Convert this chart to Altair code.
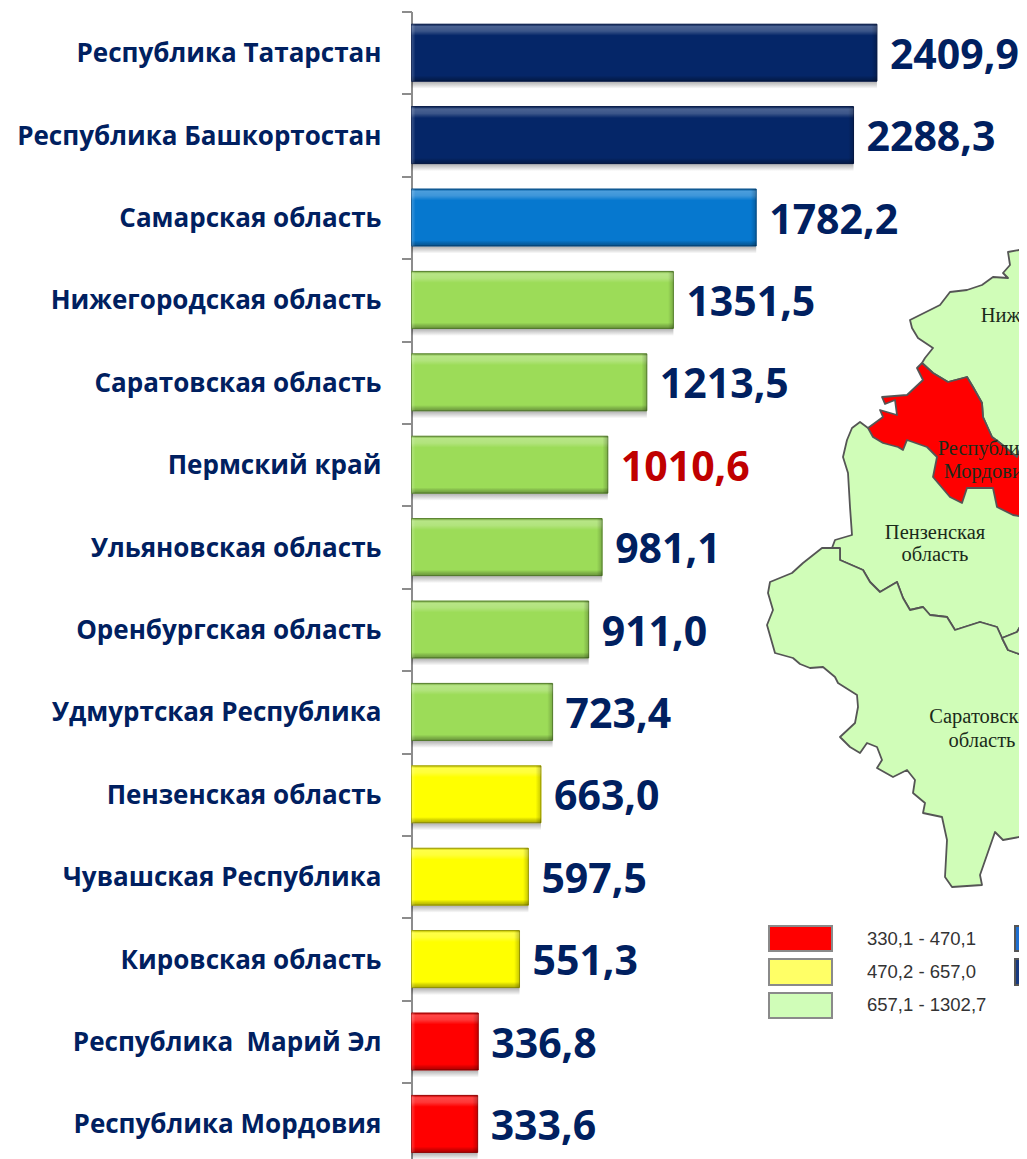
import altair as alt
import pandas as pd

regions = ["Республика Татарстан", "Республика Башкортостан", "Самарская область",
           "Нижегородская область", "Саратовская область", "Пермский край",
           "Ульяновская область", "Оренбургская область", "Удмуртская Республика",
           "Пензенская область", "Чувашская Республика", "Кировская область",
           "Республика\u00a0 Марий Эл", "Республика Мордовия"]
values = [2409.9, 2288.3, 1782.2, 1351.5, 1213.5, 1010.6, 981.1, 911.0, 723.4,
          663.0, 597.5, 551.3, 336.8, 333.6]
groups = ["navy", "navy", "blue", "green", "green", "green", "green", "green", "green",
          "yellow", "yellow", "yellow", "red", "red"]
highlight = ["no"] * 14
highlight[5] = "yes"

# map outlines (picture pixels)
penza = [(868,428),(860,422),(852,428),(847,440),(843,457),(848,473),(850,507),(852,535),(835,540),(832,548),(840,548),
         (840,560),(863,570),(870,582),(880,592),(897,582),(903,598),(910,610),(923,607),(930,615),(947,617),(955,630),(980,622),
         (997,627),(1002,638),(1017,632),(1030,610),(1030,470),(950,440),(900,425)]
saratov = [(840,548),(832,548),(822,548),(803,563),(792,573),(770,582),(768,593),(773,610),(767,625),(775,653),
           (793,658),(800,664),(810,668),(823,667),(835,677),(838,683),(857,695),(858,707),(855,723),(840,737),(850,747),(860,753),
           (867,743),(877,747),(882,760),(877,768),(893,777),(907,770),(915,780),(913,793),(925,803),(923,813),
           (942,817),(947,840),(945,877),(952,887),(982,885),(980,875),(995,832),(1003,840),(1030,835),(1030,658),
           (1008,650),(1002,638),(997,627),(980,622),(955,630),(947,617),(930,615),(923,607),(910,610),(903,598),(897,582),
           (880,592),(870,582),(863,570),(840,560)]
ulyanovsk = [(1002,638),(1017,632),(1030,610),(1030,658),(1008,650)]
nizhny = [(1030,248),(1008,252),(1010,265),(1003,273),(1008,278),(993,277),(982,285),(967,290),(950,292),(940,305),
          (910,320),(912,328),(918,338),(933,348),(925,358),(922,363),(933,373),(948,382),(967,377),(973,387),
          (982,403),(983,417),(992,437),(1000,443),(1017,457),(1030,440)]
mordovia = [(922,363),(933,373),(948,382),(967,377),(973,387),(982,403),(983,417),(992,437),(1000,443),(1017,457),
            (1023,440),(1030,438),(1030,518),(1013,515),(997,507),(993,488),(967,488),(962,503),(950,497),(933,477),
            (937,457),(927,447),(907,440),(903,450),(898,447),(883,443),(873,437),(868,428),(883,417),(880,410),
            (897,415),(895,400),(885,404),(882,397),(907,395),(923,380),(917,368)]
map_shapes = [("#d0fdb8", penza), ("#d0fdb8", saratov), ("#d0fdb8", ulyanovsk), ("#d0fdb8", nizhny), ("#ff0000", mordovia)]

map_labels = ["Нижегородская", "область", "Пензенская", "область", "Республика", "Мордовия", "Саратовская", "область"]
map_label_x = [1048, 1055, 935, 935, 988, 988, 983, 982]
map_label_y = [316, 338, 533, 555, 449, 472, 717, 741]

legend_labels = ["330,1 - 470,1", "470,2 - 657,0", "657,1 - 1302,7"]
legend_colors = ["#ff0000", "#ffff66", "#d0fdb8"]
legend_y = [926, 959, 993]
legend_y2 = [951, 985, 1018]
legend_text_y = [939, 972, 1005]
legend2_colors = ["#1f6fd0", "#173a80"]

df = pd.DataFrame({"region": regions, "value": values, "group": groups, "hl": highlight})
df["base"] = -10.4
df["label"] = [f"{v:.1f}".replace(".", ",") for v in values]
df["left_end"] = df["base"] + 70
df["right_start"] = df["value"] - 70

NAVY = "#002060"
X_DOMAIN = [-10.4, 3148.7]
yscale = alt.Scale(domain=regions, range=[0, 1153.6], paddingInner=0, paddingOuter=0)
xscale = alt.Scale(domain=X_DOMAIN, nice=False, zero=False)
group_domain = ["navy", "blue", "green", "yellow", "red"]
fill_scale = alt.Scale(domain=group_domain, range=["#052668", "#0678cf", "#9cdc58", "#ffff00", "#ff0000"])
stroke_scale = alt.Scale(domain=group_domain, range=["#03184a", "#044f8c", "#5d8c2f", "#a8a800", "#a80000"])

mx = alt.Scale(domain=[411.5, 1019], nice=False, zero=False)
my = alt.Scale(domain=[11.5, 1159], nice=False, zero=False, reverse=True)


def poly(color, pts):
    d = pd.DataFrame({"px": [p[0] for p in pts] + [pts[0][0]],
                      "py": [p[1] for p in pts] + [pts[0][1]],
                      "i": list(range(len(pts) + 1))})
    return alt.Chart(d).mark_line(fill=color, stroke="#555555", strokeWidth=1.8, strokeJoin="round").encode(
        x=alt.X("px:Q", scale=mx, axis=None), y=alt.Y("py:Q", scale=my, axis=None), order="i:Q")


layers = [poly(c, p) for c, p in map_shapes]

map_text = pd.DataFrame({"t": map_labels, "px": map_label_x, "py": map_label_y})
layers.append(alt.Chart(map_text).mark_text(font="Liberation Serif", fontSize=20.5, color="#1a2a1a", align="center", baseline="middle").encode(
    x=alt.X("px:Q", scale=mx, axis=None), y=alt.Y("py:Q", scale=my, axis=None), text="t:N"))

sw = pd.DataFrame({"x0": [769] * 3, "x1": [832] * 3, "y0": legend_y, "y1": legend_y2, "c": legend_colors})
layers.append(alt.Chart(sw).mark_rect(stroke="#8a8a8a", strokeWidth=2).encode(
    x=alt.X("x0:Q", scale=mx, axis=None), x2="x1:Q",
    y=alt.Y("y0:Q", scale=my, axis=None), y2="y1:Q",
    fill=alt.Fill("c:N", scale=None)))
sw2 = pd.DataFrame({"x0": [1015] * 2, "x1": [1030] * 2, "y0": legend_y[:2], "y1": legend_y2[:2], "c": legend2_colors})
layers.append(alt.Chart(sw2).mark_rect(stroke="#555555", strokeWidth=2).encode(
    x=alt.X("x0:Q", scale=mx, axis=None), x2="x1:Q",
    y=alt.Y("y0:Q", scale=my, axis=None), y2="y1:Q",
    fill=alt.Fill("c:N", scale=None)))
lt = pd.DataFrame({"t": legend_labels, "px": [867] * 3, "py": legend_text_y})
layers.append(alt.Chart(lt).mark_text(font="Liberation Sans", fontSize=18.5, color="#333333", align="left", baseline="middle").encode(
    x=alt.X("px:Q", scale=mx, axis=None), y=alt.Y("py:Q", scale=my, axis=None), text="t:N"))

base = alt.Chart(df)
x_val = alt.X("value:Q", scale=xscale, axis=None)
y_none = alt.Y("region:N", scale=yscale, axis=None, sort=regions)

# soft shadow under each bar
shadow = alt.Gradient(gradient="linear", x1=0, y1=0, x2=0, y2=1,
                      stops=[alt.GradientStop(offset=0, color="rgba(0,0,0,0.35)"),
                             alt.GradientStop(offset=1, color="rgba(0,0,0,0)")])
layers.append(base.mark_bar(size=8, yOffset=32, fill=shadow).encode(x=x_val, x2="base:Q", y=y_none))

layers.append(base.mark_bar(size=57, strokeWidth=1).encode(
    x=x_val, x2="base:Q",
    y=alt.Y("region:N", scale=yscale, sort=regions, title=None,
            axis=alt.Axis(labelFont="Open Sans", labelFontWeight="bold", labelFontSize=26,
                          labelColor=NAVY, labelPadding=20.5, tickSize=10, tickColor="#8c8c8c",
                          tickWidth=2, domainColor="#8c8c8c", domainWidth=2, tickBand="extent",
                          labelLimit=400, grid=False, labelBaseline="middle", labelOffset=1)),
    fill=alt.Fill("group:N", scale=fill_scale, legend=None),
    stroke=alt.Stroke("group:N", scale=stroke_scale, legend=None)))

# bevel: vertical shading
bevel = alt.Gradient(gradient="linear", x1=0, y1=0, x2=0, y2=1,
                     stops=[alt.GradientStop(offset=0, color="rgba(0,0,0,0.20)"),
                            alt.GradientStop(offset=0.04, color="rgba(255,255,255,0.28)"),
                            alt.GradientStop(offset=0.12, color="rgba(255,255,255,0.22)"),
                            alt.GradientStop(offset=0.20, color="rgba(255,255,255,0)"),
                            alt.GradientStop(offset=0.90, color="rgba(0,0,0,0)"),
                            alt.GradientStop(offset=0.95, color="rgba(0,0,0,0.18)"),
                            alt.GradientStop(offset=1, color="rgba(0,0,0,0.32)")])
layers.append(base.mark_bar(size=57, fill=bevel).encode(x=x_val, x2="base:Q", y=y_none))

# bevel: ends
right = alt.Gradient(gradient="linear", x1=0, y1=0, x2=1, y2=0,
                     stops=[alt.GradientStop(offset=0, color="rgba(0,0,0,0)"),
                            alt.GradientStop(offset=0.6, color="rgba(0,0,0,0)"),
                            alt.GradientStop(offset=1, color="rgba(0,0,0,0.22)")])
layers.append(base.mark_bar(size=57, fill=right).encode(
    x=alt.X("right_start:Q", scale=xscale, axis=None), x2="value:Q", y=y_none))
left = alt.Gradient(gradient="linear", x1=0, y1=0, x2=1, y2=0,
                    stops=[alt.GradientStop(offset=0, color="rgba(255,255,255,0.22)"),
                           alt.GradientStop(offset=0.3, color="rgba(255,255,255,0)"),
                           alt.GradientStop(offset=1, color="rgba(255,255,255,0)")])
layers.append(base.mark_bar(size=57, fill=left).encode(
    x=alt.X("base:Q", scale=xscale, axis=None), x2="left_end:Q", y=y_none))

layers.append(base.mark_text(font="Open Sans", fontWeight="bold", fontSize=41, align="left", baseline="middle", dx=13, dy=4).encode(
    x=x_val, y=y_none, text="label:N",
    color=alt.Color("hl:N", scale=alt.Scale(domain=["no", "yes"], range=[NAVY, "#c00000"]), legend=None)))

chart = alt.layer(*layers).resolve_scale(x="independent", y="independent", fill="independent", stroke="independent", color="independent").properties(
    width=607.5, height=1147.5,
    padding={"left": 403.5, "top": 3.5, "right": 0, "bottom": 0},
    autosize=alt.AutoSizeParams(type="none"),
    background="white",
).configure_view(stroke=None)

chart.save("out.html", embed_options={"renderer": "svg", "actions": False})
